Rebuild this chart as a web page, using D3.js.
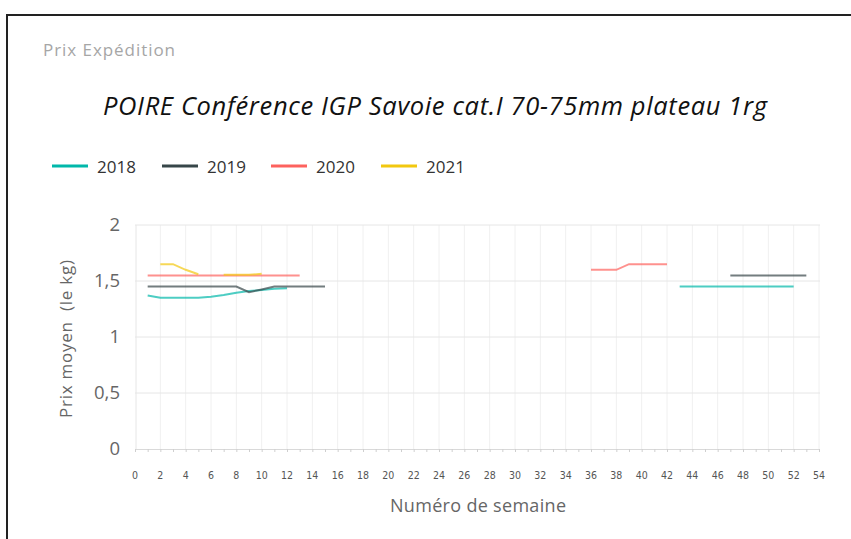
<!DOCTYPE html>
<html>
<head>
<meta charset="utf-8">
<script src="https://cdn.jsdelivr.net/npm/d3@7"></script>
<style>
  body { margin: 0; background: #fff; }
  svg { display: block; font-family: "Segoe UI", "Open Sans", sans-serif; }
</style>
</head>
<body>
<div id="chart"></div>
<script>
// data ↓
const years = ["2018", "2019", "2020", "2021"];
const colors = ["#01B8AA", "#374649", "#FD625E", "#F2C80F"];

const weeks2018 = [1, 2, 3, 4, 5, 6, 7, 8, 9, 10, 11, 12, 43, 44, 45, 46, 47, 48, 49, 50, 51, 52];
const prix2018 = [1.37, 1.35, 1.35, 1.35, 1.35, 1.36, 1.375, 1.395, 1.41, 1.42, 1.43, 1.435, 1.45, 1.45, 1.45, 1.45, 1.45, 1.45, 1.45, 1.45, 1.45, 1.45];

const weeks2019 = [1, 2, 3, 4, 5, 6, 7, 8, 9, 10, 11, 12, 13, 14, 15, 47, 48, 49, 50, 51, 52, 53];
const prix2019 = [1.45, 1.45, 1.45, 1.45, 1.45, 1.45, 1.45, 1.45, 1.40, 1.425, 1.45, 1.45, 1.45, 1.45, 1.45, 1.55, 1.55, 1.55, 1.55, 1.55, 1.55, 1.55];

const weeks2020 = [1, 2, 3, 4, 5, 6, 7, 8, 9, 10, 11, 12, 13, 36, 37, 38, 39, 40, 41, 42];
const prix2020 = [1.55, 1.55, 1.55, 1.55, 1.55, 1.55, 1.55, 1.55, 1.55, 1.55, 1.55, 1.55, 1.55, 1.60, 1.60, 1.60, 1.65, 1.65, 1.65, 1.65];

const weeks2021 = [2, 3, 4, 5, 7, 8, 9, 10];
const prix2021 = [1.65, 1.65, 1.60, 1.56, 1.555, 1.555, 1.555, 1.565];

const xTicks = [0, 2, 4, 6, 8, 10, 12, 14, 16, 18, 20, 22, 24, 26, 28, 30, 32, 34, 36, 38, 40, 42, 44, 46, 48, 50, 52, 54];
const yTicks = [0, 0.5, 1, 1.5, 2];
// data ↑

const series = [
  { year: years[0], weeks: weeks2018, prix: prix2018, color: colors[0] },
  { year: years[1], weeks: weeks2019, prix: prix2019, color: colors[1] },
  { year: years[2], weeks: weeks2020, prix: prix2020, color: colors[2] },
  { year: years[3], weeks: weeks2021, prix: prix2021, color: colors[3] }
];

// split a series where weeks are missing (gaps are not joined)
const segments = s => {
  const out = [];
  let cur = [];
  s.weeks.forEach((w, i) => {
    if (cur.length && w - cur[cur.length - 1].w > 1) { out.push(cur); cur = []; }
    cur.push({ w: w, v: s.prix[i] });
  });
  if (cur.length) out.push(cur);
  return out;
};

const W = 851, H = 539;
const pLeft = 135, pRight = 819, pTop = 225, pBottom = 449;

const svg = d3.select("#chart").append("svg").attr("width", W).attr("height", H);

// frame
svg.append("path")
  .attr("d", `M7,${H} L7,15 L${W},15`)
  .attr("fill", "none")
  .attr("stroke", "#222")
  .attr("stroke-width", 2);

svg.append("text")
  .attr("x", 43).attr("y", 56)
  .attr("font-size", 17)
  .attr("fill", "#a6a6a6")
  .attr("textLength", 132)
  .text("Prix Expédition");

svg.append("text")
  .attr("x", 435).attr("y", 115)
  .attr("text-anchor", "middle")
  .attr("font-size", 25.5)
  .attr("font-style", "italic")
  .attr("fill", "#111")
  .attr("textLength", 664)
  .text("POIRE Conférence IGP Savoie cat.I 70-75mm plateau 1rg");

// legend
const legX = [52, 162, 271, 381];
const leg = svg.selectAll(".leg").data(series).enter().append("g")
  .attr("transform", (d, i) => `translate(${legX[i]},166)`);
leg.append("line").attr("x1", 0).attr("x2", 36).attr("y1", 0).attr("y2", 0)
  .attr("stroke", d => d.color).attr("stroke-width", 3);
leg.append("text").attr("x", 45).attr("y", 6.5)
  .attr("font-size", 17).attr("fill", "#333").text(d => d.year);

const x = d3.scaleLinear().domain([0, 54]).range([pLeft, pRight]);
const y = d3.scaleLinear().domain([0, 2]).range([pBottom, pTop]);

// vertical grid
svg.append("g").selectAll("line").data(xTicks.slice(1)).enter().append("line")
  .attr("x1", d => x(d)).attr("x2", d => x(d))
  .attr("y1", pTop).attr("y2", pBottom)
  .attr("stroke", "#f0f0f0").attr("stroke-width", 1);

// horizontal grid
svg.append("g").selectAll("line").data(yTicks.slice(1)).enter().append("line")
  .attr("x1", pLeft).attr("x2", pRight + 1)
  .attr("y1", d => y(d)).attr("y2", d => y(d))
  .attr("stroke", "#e6e6e6").attr("stroke-width", 1);

// left axis line
svg.append("line")
  .attr("x1", pLeft + 1).attr("x2", pLeft + 1).attr("y1", pTop).attr("y2", pBottom)
  .attr("stroke", "#e6e6e6");

// x axis with minor ticks every week
const xAxis = svg.append("g")
  .attr("transform", `translate(0,${pBottom})`)
  .call(d3.axisBottom(x).tickValues(d3.range(0, 55)).tickSize(3).tickFormat(""));
xAxis.select(".domain").attr("stroke", "#d9d9d9");
xAxis.selectAll(".tick line").attr("stroke", "#cfcfcf");

svg.append("g").selectAll("text").data(xTicks).enter().append("text")
  .attr("x", d => x(d)).attr("y", pBottom + 30)
  .attr("text-anchor", "middle")
  .attr("font-size", 10.5)
  .attr("font-family", "'Liberation Sans Narrow', 'DejaVu Sans Condensed', sans-serif")
  .attr("fill", "#555")
  .text(d => d);

// y axis labels
const yAxis = svg.append("g")
  .attr("transform", `translate(${pLeft - 12},0)`)
  .call(d3.axisLeft(y).tickValues(yTicks).tickSize(0)
    .tickFormat(d => d3.format("")(d).replace(".", ",")));
yAxis.select(".domain").remove();
yAxis.selectAll("text").attr("font-size", 18.5).attr("fill", "#666")
  .attr("font-family", "'Segoe UI', 'Open Sans', sans-serif");

svg.append("text")
  .attr("transform", `translate(72,${(pTop + pBottom) / 2 + 2}) rotate(-90)`)
  .attr("text-anchor", "middle")
  .attr("font-size", 17)
  .attr("fill", "#666")
  .style("white-space", "pre")
  .attr("textLength", 158)
  .text("Prix moyen  (le kg)");

svg.append("text")
  .attr("x", 478).attr("y", 512)
  .attr("text-anchor", "middle")
  .attr("font-size", 18)
  .attr("fill", "#666")
  .attr("textLength", 176)
  .text("Numéro de semaine");

// lines
const line = d3.line().x(d => x(d.w)).y(d => y(d.v));
series.forEach(s => {
  svg.append("g").selectAll("path").data(segments(s)).enter().append("path")
    .attr("d", line)
    .attr("fill", "none")
    .attr("stroke", s.color)
    .attr("stroke-opacity", 0.7)
    .attr("stroke-width", 2);
});
</script>
</body>
</html>
